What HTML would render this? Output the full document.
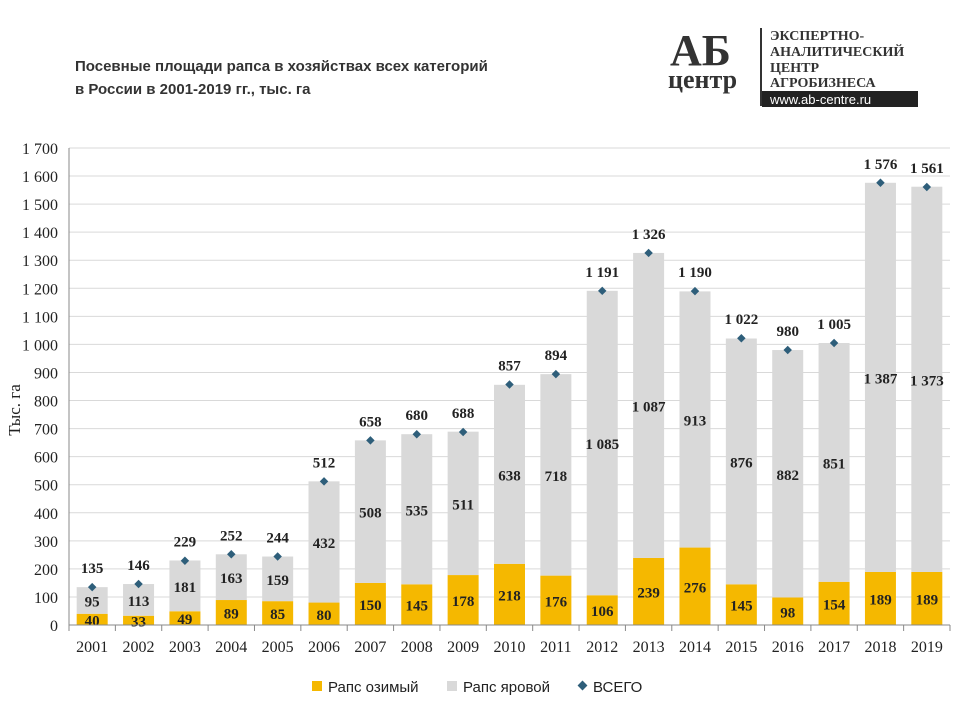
<!DOCTYPE html>
<html><head><meta charset="utf-8"><style>
body{margin:0;background:#fff;width:960px;height:720px;overflow:hidden;font-family:"Liberation Serif",serif}
#t{position:absolute;left:75px;top:55px;font:bold 15px "Liberation Sans","Noto Sans CJK SC",sans-serif;color:#333;line-height:23px}
</style></head><body>
<div id="t">Посевные площади рапса в хозяйствах всех категорий<br>в России в 2001-2019 гг., тыс. га</div>
<svg id="s" width="960" height="720" style="position:absolute;left:0;top:0">
<g>
<text x="670" y="65" font-family="Liberation Serif" font-weight="bold" font-size="44" fill="#333">АБ</text>
<text x="668" y="88" font-family="Liberation Serif" font-weight="bold" font-size="26" fill="#333">центр</text>
<rect x="760" y="28" width="2" height="78" fill="#333"/>
<text x="770" y="40" font-family="Liberation Serif" font-weight="bold" font-size="14" fill="#333">ЭКСПЕРТНО-</text>
<text x="770" y="56" font-family="Liberation Serif" font-weight="bold" font-size="14" fill="#333">АНАЛИТИЧЕСКИЙ</text>
<text x="770" y="72" font-family="Liberation Serif" font-weight="bold" font-size="14" fill="#333">ЦЕНТР</text>
<text x="770" y="87" font-family="Liberation Serif" font-weight="bold" font-size="14" fill="#333">АГРОБИЗНЕСА</text>
<rect x="762" y="91" width="156" height="16" fill="#222"/>
<text x="770" y="104" font-family="Liberation Sans" font-size="13" fill="#fff">www.ab-centre.ru</text>
</g>
<g id="grid"></g><g id="bars"></g><g id="axes"></g>
<text x="20" y="410" transform="rotate(-90 20 410)" text-anchor="middle" font-size="17" fill="#222">Тыс. га</text>
<g>
<rect x="312" y="681" width="10" height="10" fill="#F5B800"/>
<text x="328" y="692" font-family="Liberation Sans" font-size="15" fill="#222">Рапс озимый</text>
<rect x="447" y="681" width="10" height="10" fill="#D9D9D9"/>
<text x="463" y="692" font-family="Liberation Sans" font-size="15" fill="#222">Рапс яровой</text>
<rect x="579" y="682" width="7" height="7" fill="#2E5E7A" transform="rotate(45 582.5 685.5)"/>
<text x="593" y="692" font-family="Liberation Sans" font-size="15" fill="#222">ВСЕГО</text>
</g>
</svg>
<script>
const years=["2001","2002","2003","2004","2005","2006","2007","2008","2009","2010","2011","2012","2013","2014","2015","2016","2017","2018","2019"];
const winter=[40,33,49,89,85,80,150,145,178,218,176,106,239,276,145,98,154,189,189];
const spring=[95,113,181,163,159,432,508,535,511,638,718,1085,1087,913,876,882,851,1387,1373];
const total=[135,146,229,252,244,512,658,680,688,857,894,1191,1326,1190,1022,980,1005,1576,1561];
const yTicks=[0,100,200,300,400,500,600,700,800,900,1000,1100,1200,1300,1400,1500,1600,1700];
const NS="http://www.w3.org/2000/svg";
const X0=69,X1=950,Y0=625,Y1=148,YMAX=1700;
const bw=(X1-X0)/years.length;
const y=v=>Y0-(Y0-Y1)*v/YMAX;
const xc=i=>X0+bw*(i+0.5);
const fmt=v=>v>=1000?Math.floor(v/1000)+" "+String(v%1000).padStart(3,"0"):String(v);
function el(tag,attrs,parent,txt){const e=document.createElementNS(NS,tag);for(const k in attrs)e.setAttribute(k,attrs[k]);if(txt!==undefined)e.textContent=txt;parent.appendChild(e);return e;}
const G=document.getElementById("grid"),B=document.getElementById("bars"),A=document.getElementById("axes");
yTicks.forEach(v=>{
 const l=el("line",{x1:X0,x2:X1,y1:y(v),y2:y(v),stroke:"#D9D9D9","stroke-width":1},G);
 
 
 const t=el("text",{x:58,y:y(v)+6,"text-anchor":"end","font-size":16,fill:"#222"},A,fmt(v));
 
 
});
el("line",{x1:X0,x2:X0,y1:Y1,y2:Y0,stroke:"#888"},A);
el("line",{x1:X0,x2:X1,y1:Y0,y2:Y0,stroke:"#888"},A);
for(let i=0;i<=years.length;i++)el("line",{x1:X0+bw*i,x2:X0+bw*i,y1:Y0,y2:Y0+6,stroke:"#888"},A);
years.forEach((yr,i)=>{
 const cx=xc(i),w=31;
 const t=el("text",{x:cx,y:652,"text-anchor":"middle","font-size":16,fill:"#222"},A,yr);
 
 
 const r1=el("rect",{x:cx-w/2,y:y(winter[i]),width:w,height:Y0-y(winter[i]),fill:"#F5B800"},B);
 
 
 const r2=el("rect",{x:cx-w/2,y:y(winter[i]+spring[i]),width:w,height:y(winter[i])-y(winter[i]+spring[i]),fill:"#D9D9D9"},B);
 
 
 const lw=el("text",{x:cx,y:(y(winter[i])+Y0)/2+6,"text-anchor":"middle","font-size":15,"font-weight":"bold",fill:"#222"},B,fmt(winter[i]));
 
 
 const ls=el("text",{x:cx,y:(y(winter[i])+y(winter[i]+spring[i]))/2+6,"text-anchor":"middle","font-size":15,"font-weight":"bold",fill:"#222"},B,fmt(spring[i]));
 
 
 const ty=y(total[i]);
 const d=el("rect",{x:cx-3,y:ty-3,width:6,height:6,fill:"#2E5E7A",transform:`rotate(45 ${cx} ${ty})`},B);
 
 
 const lt=el("text",{x:cx,y:ty-14,"text-anchor":"middle","font-size":15,"font-weight":"bold",fill:"#222"},B,fmt(total[i]));
 
 
});
</script>
</body></html>
